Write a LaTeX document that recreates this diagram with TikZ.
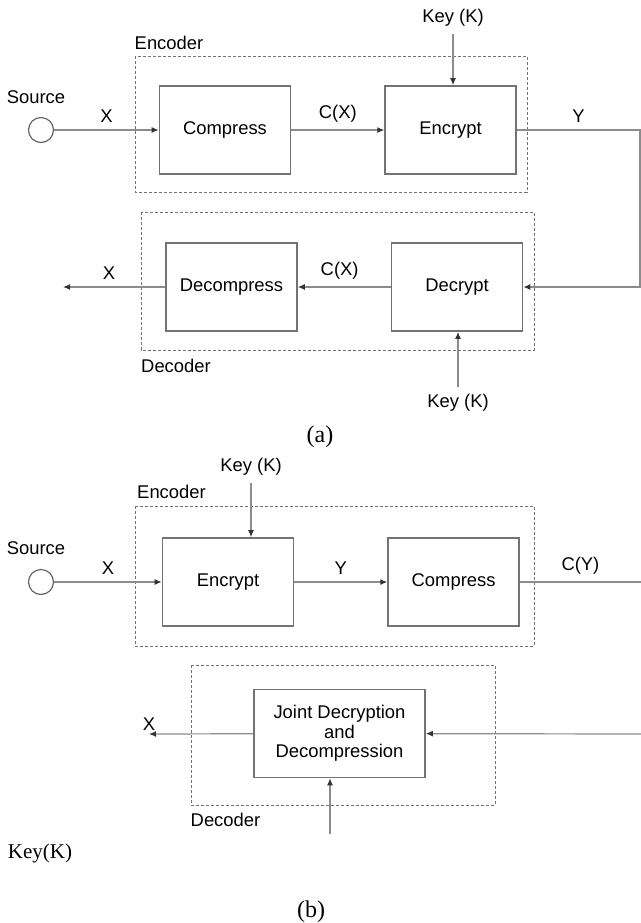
\documentclass[tikz,border=0pt]{standalone}
\usepackage{fontspec}
\setmainfont{Liberation Sans}
\newfontfamily\capfont{Liberation Serif}
\usetikzlibrary{arrows.meta, positioning}

\begin{document}
\begin{tikzpicture}[
      x=0.5pt, y=-0.5pt,
      font=\fontsize{9.2}{10}\selectfont,
      node distance=46.5pt,
      block/.style={rectangle, draw=black!55, line width=0.8pt, minimum width=65.5pt, minimum height=44pt, align=center},
      group/.style={draw=black!55, line width=0.5pt, dash pattern=on 1.5pt off 1pt},
      src/.style={circle, draw=black!60, line width=0.6pt, minimum size=12.5pt, inner sep=0pt},
      wire/.style={draw=black!45, line width=0.6pt},
      arrow/.style={wire, -{Latex[length=3.5pt, width=3pt, color=black!80]}},
      caption/.style={font=\capfont\fontsize{12}{14}\selectfont}
    ]
    \useasboundingbox (0,0) rectangle (641,923);

    % (a) compress, then encrypt
    \node[src] (srcA) at (41,130) {};
    \node (srcAlbl) at (36,97) {Source};
    \node[block] (compA) at (225,130) {Compress};
    \node[block, right=of compA] (encA) {Encrypt};
    \node (keyA) at (453,18) {Key (K)};
    \draw[group] (135,56) rectangle (527,192);
    \node (encoderA) at (169,43) {Encoder};

    \draw[arrow] (srcA) -- node[above] (xA) {X} (compA);
    \draw[arrow] (compA) -- node[above] (cxA) {C(X)} (encA);
    \draw[arrow] (keyA) -- (keyA |- encA.north);

    \node[block] (dcmpA) at (231.5,287) {Decompress};
    \node[block, right=of dcmpA] (decA) {Decrypt};
    \node (keyA2) at (458,403) {Key (K)};
    \draw[group] (141,212) rectangle (534,350);
    \node (decoderA) at (176,366) {Decoder};
    \coordinate (turnA) at (640,130);
    \coordinate (outA) at (63,287);

    \draw[arrow] (encA) -- node[above] (yA) {Y} (turnA) |- (decA);
    \draw[arrow] (decA) -- node[above, pos=0.55] (cxA2) {C(X)} (dcmpA);
    \draw[arrow] (dcmpA) -- node[above, pos=0.55] (xA2) {X} (outA);
    \draw[arrow] (keyA2) -- (keyA2 |- decA.south);

    \node[caption] (capA) at (320,437) {(a)};

    % (b) encrypt, then compress
    \node[src] (srcB) at (41,582) {};
    \node (srcBlbl) at (36,548) {Source};
    \node[block] (encB) at (228,582) {Encrypt};
    \node[block, right=of encB] (compB) {Compress};
    \node (keyB) at (251,467) {Key (K)};
    \draw[group] (135,506) rectangle (534,646);
    \node (encoderB) at (171.5,492) {Encoder};
    \coordinate (edgeB) at (641,582);

    \draw[arrow] (srcB) -- node[above] (xB) {X} (encB);
    \draw[arrow] (encB) -- node[above] (yB) {Y} (compB);
    \draw[arrow] (keyB) -- (keyB |- encB.north);
    \draw[wire] (compB) -- node[above] (cyB) {C(Y)} (edgeB);

    \node[block, minimum width=85.5pt, font=\fontsize{9.2}{9.8}\selectfont] (jointB) at (339.5,733.5) {Joint Decryption\\and\\Decompression};
    \draw[group] (191,665) rectangle (495,805);
    \node (decoderB) at (225.5,820) {Decoder};
    \coordinate (inB) at (641,734);
    \coordinate (outB) at (149,734);
    \coordinate (keyBin) at (330,834);

    \draw[arrow] (inB) -- (jointB);
    \draw[arrow] (jointB) -- (outB) node[above, inner sep=1.5pt] (xB2) {X};
    \draw[arrow] (keyBin) -- (keyBin |- jointB.south);

    \node[font=\capfont\fontsize{10.5}{12}\selectfont] (keyB2) at (40,853) {Key(K)};
    \node[caption] (capB) at (311,912) {(b)};
  \end{tikzpicture}
\end{document}
